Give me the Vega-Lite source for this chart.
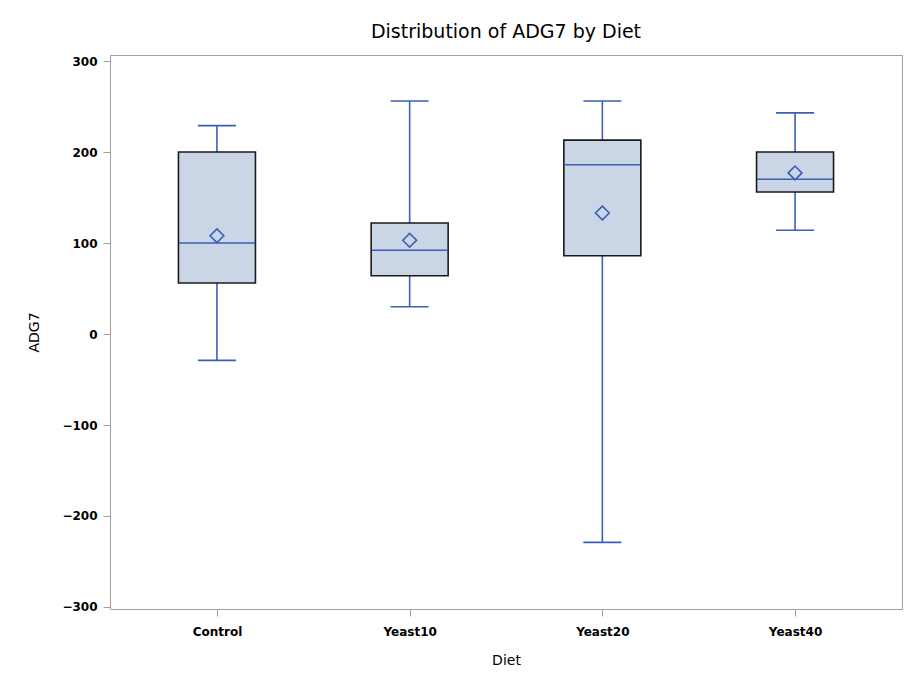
{
  "$schema": "https://vega.github.io/schema/vega-lite/v6.json",
  "width": 792,
  "height": 554,
  "autosize": {"type": "none"},
  "padding": {"left": 110, "top": 55, "right": 4, "bottom": 75},
  "background": "white",
  "title": {
    "text": "Distribution of ADG7 by Diet",
    "font": "DejaVu Sans",
    "fontSize": 19,
    "fontWeight": "normal",
    "color": "black",
    "anchor": "middle",
    "offset": 13
  },
  "config": {
    "view": {"stroke": "#a0a0a0", "strokeWidth": 1},
    "axis": {
      "labelFont": "DejaVu Sans",
      "labelFontWeight": "bold",
      "labelFontSize": 12,
      "labelColor": "black",
      "titleFont": "DejaVu Sans",
      "titleFontWeight": "normal",
      "titleFontSize": 14,
      "titleColor": "black",
      "tickColor": "#a0a0a0",
      "tickSize": 7,
      "domain": false,
      "grid": false
    }
  },
  "data": {
    "values": [
      {"Diet": "Control", "min": -29, "q1": 56, "median": 100, "q3": 200, "max": 229, "mean": 108},
      {"Diet": "Yeast10", "min": 30, "q1": 64, "median": 92, "q3": 122, "max": 256, "mean": 103},
      {"Diet": "Yeast20", "min": -229, "q1": 86, "median": 186, "q3": 213, "max": 256, "mean": 133},
      {"Diet": "Yeast40", "min": 114, "q1": 156, "median": 170, "q3": 200, "max": 243, "mean": 177}
    ]
  },
  "encoding": {
    "x": {
      "field": "Diet",
      "type": "nominal",
      "title": "Diet",
      "sort": ["Control", "Yeast10", "Yeast20", "Yeast40"],
      "scale": {"type": "point", "padding": 0.555},
      "axis": {"labelAngle": 0, "labelPadding": 10, "titlePadding": 16}
    }
  },
  "layer": [
    {
      "mark": {"type": "rule", "color": "#3a5fb5", "strokeWidth": 1.6},
      "encoding": {
        "y": {
          "field": "min",
          "type": "quantitative",
          "title": "ADG7",
          "scale": {"domain": [-302.2, 306.6], "nice": false, "zero": false},
          "axis": {"values": [-300, -200, -100, 0, 100, 200, 300], "labelPadding": 6, "titlePadding": 20}
        },
        "y2": {"field": "max"}
      }
    },
    {
      "mark": {"type": "bar", "size": 77, "fill": "#cad5e5", "stroke": "#1a1a1a", "strokeWidth": 1.6},
      "encoding": {
        "y": {"field": "q1", "type": "quantitative"},
        "y2": {"field": "q3"}
      }
    },
    {
      "mark": {"type": "tick", "size": 76, "thickness": 1.6, "color": "#3a5fb5", "opacity": 1},
      "encoding": {"y": {"field": "median", "type": "quantitative"}}
    },
    {
      "mark": {"type": "tick", "size": 38, "thickness": 1.6, "color": "#3a5fb5", "opacity": 1},
      "encoding": {"y": {"field": "max", "type": "quantitative"}}
    },
    {
      "mark": {"type": "tick", "size": 38, "thickness": 1.6, "color": "#3a5fb5", "opacity": 1},
      "encoding": {"y": {"field": "min", "type": "quantitative"}}
    },
    {
      "mark": {"type": "point", "shape": "diamond", "size": 190, "filled": false, "stroke": "#3a5fb5", "strokeWidth": 1.6, "opacity": 1},
      "encoding": {"y": {"field": "mean", "type": "quantitative"}}
    }
  ]
}
